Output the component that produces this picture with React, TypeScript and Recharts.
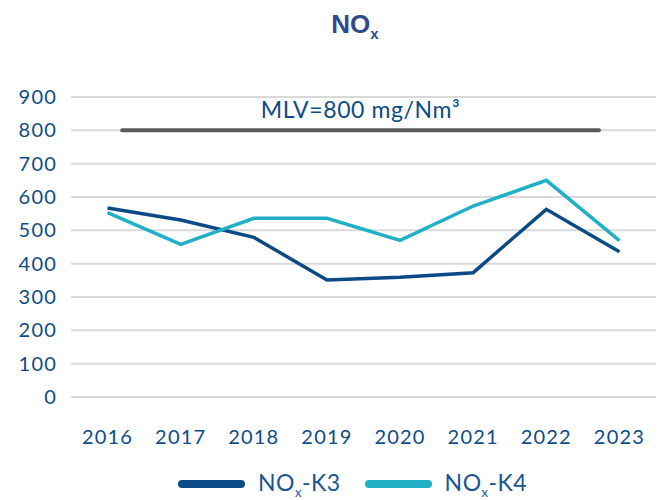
import React from 'react';
import {
  LineChart,
  Line,
  XAxis,
  YAxis,
  CartesianGrid,
  ReferenceLine,
  Legend,
} from 'recharts';

const YEARS = [2016, 2017, 2018, 2019, 2020, 2021, 2022, 2023];
const NOX_K3 = [567, 531, 479, 351, 359, 373, 563, 436];
const NOX_K4 = [553, 458, 536, 536, 470, 573, 650, 469];
const Y_TICKS = [0, 100, 200, 300, 400, 500, 600, 700, 800, 900];

// emission limit value, drawn across most of the period
const MLV_VALUE = 800;
const MLV_FROM = 2016.2;
const MLV_TO = 2022.72;
const MLV_LABEL = 'MLV=800 mg/Nm³';

const DARK = '#0b4a86';
const TEAL = '#20b0c5';
const TEXT = '#0d4c88';
const FONT = 'Lato, "Open Sans", sans-serif';

const data = YEARS.map((year, i) => ({ year, k3: NOX_K3[i], k4: NOX_K4[i] }));

const series = [
  { key: 'k3', name: 'K3', color: DARK },
  { key: 'k4', name: 'K4', color: TEAL },
];

const renderLegend = () => (
  <div
    style={{
      height: 30,
      display: 'flex',
      alignItems: 'center',
      paddingLeft: 178,
      fontFamily: FONT,
      fontSize: 23,
      color: '#1a5590',
    }}
  >
    {series.map((s, i) => (
      <div
        key={s.key}
        style={{ display: 'flex', alignItems: 'center', marginLeft: i === 0 ? 0 : 24 }}
      >
        <div style={{ width: 67, height: 8, borderRadius: 4, background: s.color }} />
        <span style={{ marginLeft: 13, whiteSpace: 'nowrap', letterSpacing: 0.5 }}>
          NO<sub style={{ fontSize: 13 }}>x</sub>-{s.name}
        </span>
      </div>
    ))}
  </div>
);

export default function App() {
  return (
    <div
      style={{
        position: 'absolute',
        top: 0,
        left: 0,
        width: 664,
        height: 500,
        background: '#fff',
        fontFamily: FONT,
      }}
    >
      <div
        style={{
          position: 'absolute',
          top: 10,
          left: 0,
          width: 710,
          textAlign: 'center',
          fontFamily: '"Liberation Sans", Arial, sans-serif',
          fontWeight: 700,
          fontSize: 26,
          lineHeight: '28px',
          color: '#2d4b8e',
        }}
      >
        NO<sub style={{ fontSize: 15 }}>x</sub>
      </div>
      <LineChart
        width={664}
        height={500}
        data={data}
        margin={{ top: 97, right: 8, left: 0, bottom: 1 }}
      >
        <CartesianGrid vertical={false} stroke="#d9d9d9" strokeWidth={2} />
        <XAxis
          dataKey="year"
          type="number"
          domain={[2015.5, 2023.5]}
          ticks={YEARS}
          axisLine={false}
          tickLine={false}
          tickMargin={27}
          height={72}
          tick={{ fill: TEXT, fontSize: 20, fontFamily: FONT, letterSpacing: 1.2 }}
        />
        <YAxis
          domain={[0, 900]}
          ticks={Y_TICKS}
          width={71}
          axisLine={false}
          tickLine={false}
          tickMargin={8}
          tick={{ fill: TEXT, fontSize: 20, fontFamily: FONT, letterSpacing: 1.2 }}
        />
        <ReferenceLine
          segment={[
            { x: MLV_FROM, y: MLV_VALUE },
            { x: MLV_TO, y: MLV_VALUE },
          ]}
          stroke="#595959"
          strokeWidth={4}
          strokeLinecap="round"
          label={{
            value: MLV_LABEL,
            position: 'top',
            offset: 12,
            fill: TEXT,
            fontSize: 23,
            fontFamily: FONT,
            letterSpacing: 0.6,
          }}
        />
        {series.map((s) => (
          <Line
            key={s.key}
            dataKey={s.key}
            stroke={s.color}
            strokeWidth={3.5}
            dot={false}
            activeDot={false}
            isAnimationActive={false}
          />
        ))}
        <Legend verticalAlign="bottom" content={renderLegend} />
      </LineChart>
    </div>
  );
}
